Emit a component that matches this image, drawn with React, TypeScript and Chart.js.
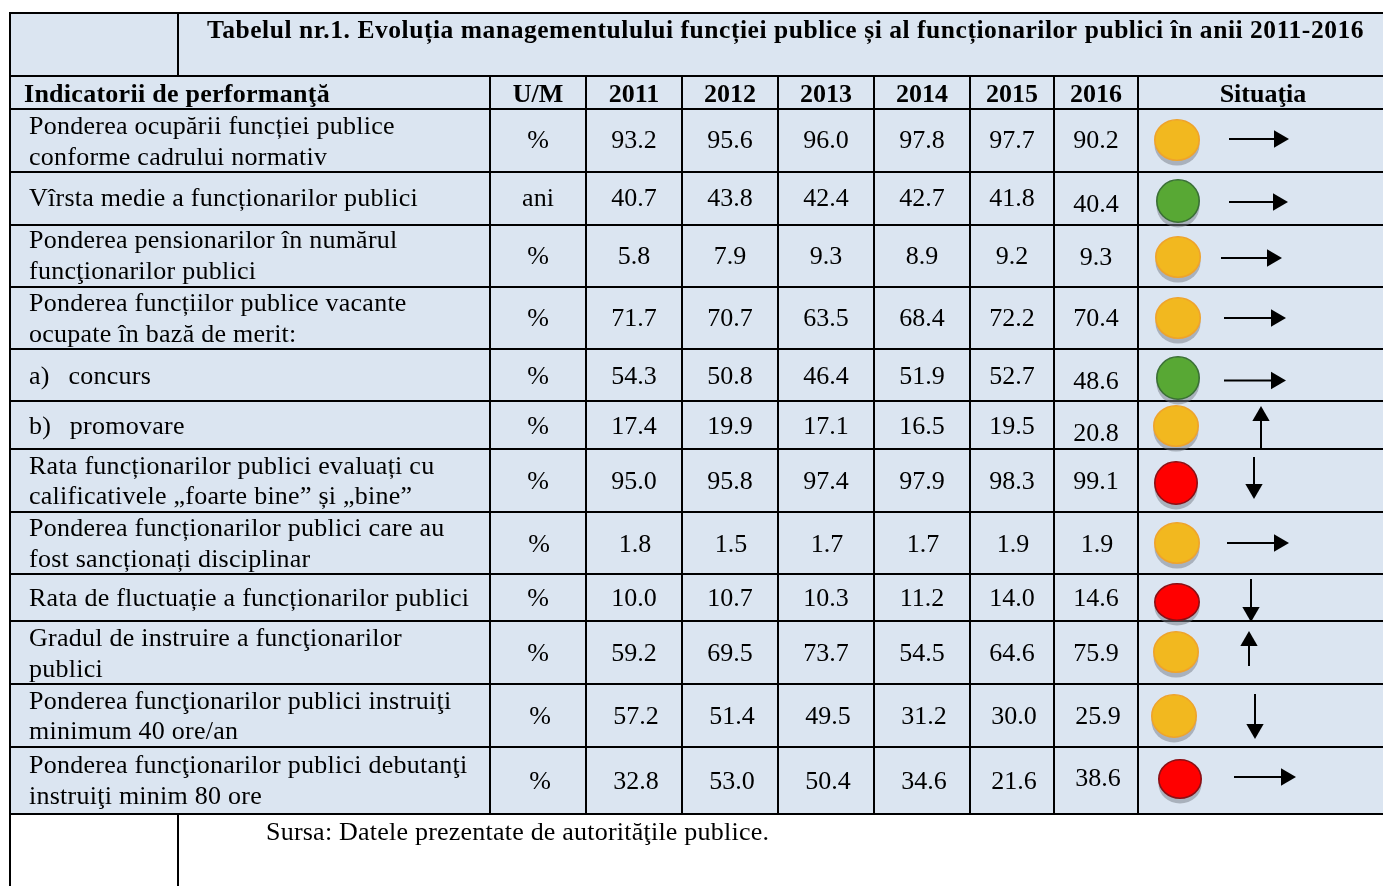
import React, { useEffect, useRef } from "react";
import { Chart, registerables } from "chart.js";

Chart.register(...registerables);

// ---- content ----
const title = "Tabelul nr.1. Evoluția managementulului funcției publice și al funcționarilor publici în anii 2011-2016";
const source = "Sursa: Datele prezentate de autorităţile publice.";
const headLabel = "Indicatorii de performanţă";
const headUnit = "U/M";
const headStatus = "Situaţia";
const years = ["2011", "2012", "2013", "2014", "2015", "2016"];

const indicators: string[][] = [
  ["Ponderea ocupării funcției publice", "conforme cadrului normativ"],
  ["Vîrsta medie a funcționarilor publici"],
  ["Ponderea pensionarilor în numărul", "funcţionarilor publici"],
  ["Ponderea funcțiilor publice vacante", "ocupate în bază de merit:"],
  ["a)\u2002\u2009concurs"],
  ["b)\u2002\u2009promovare"],
  ["Rata funcționarilor publici evaluați cu", "calificativele „foarte bine” și „bine”"],
  ["Ponderea funcționarilor publici care au", "fost sancționați disciplinar"],
  ["Rata de fluctuație a funcționarilor publici"],
  ["Gradul de instruire a funcţionarilor", "publici"],
  ["Ponderea funcţionarilor publici instruiţi", "minimum 40 ore/an"],
  ["Ponderea funcţionarilor publici debutanţi", "instruiţi minim 80 ore"],
];
const units = ["%", "ani", "%", "%", "%", "%", "%", "%", "%", "%", "%", "%"];

const values2011 = ["93.2", "40.7", "5.8", "71.7", "54.3", "17.4", "95.0", "1.8", "10.0", "59.2", "57.2", "32.8"];
const values2012 = ["95.6", "43.8", "7.9", "70.7", "50.8", "19.9", "95.8", "1.5", "10.7", "69.5", "51.4", "53.0"];
const values2013 = ["96.0", "42.4", "9.3", "63.5", "46.4", "17.1", "97.4", "1.7", "10.3", "73.7", "49.5", "50.4"];
const values2014 = ["97.8", "42.7", "8.9", "68.4", "51.9", "16.5", "97.9", "1.7", "11.2", "54.5", "31.2", "34.6"];
const values2015 = ["97.7", "41.8", "9.2", "72.2", "52.7", "19.5", "98.3", "1.9", "14.0", "64.6", "30.0", "21.6"];
const values2016 = ["90.2", "40.4", "9.3", "70.4", "48.6", "20.8", "99.1", "1.9", "14.6", "75.9", "25.9", "38.6"];
const yearValues = [values2011, values2012, values2013, values2014, values2015, values2016];

const lightStatus = ["amber", "green", "amber", "amber", "green", "amber", "red", "amber", "red", "amber", "amber", "red"];
const trends = ["right", "right", "right", "right", "right", "up", "down", "right", "down", "up", "down", "right"];

// ---- layout (table units, the axes run over the page) ----
const pageW = 1383;
const pageH = 886;
const colEdges = [490, 586, 682, 778, 874, 970, 1054, 1138];
const rowEdges = [76, 109, 172, 225, 287, 349, 401, 449, 512, 574, 621, 684, 747, 814];
const tableTop = 13;
const tableLeft = 10;
const splitX = 178;
const yearX = [634, 730, 826, 922, 1012, 1096];
const unitX = 538;
const rowValueY = [140, 198, 256, 318, 376, 426, 481, 544, 598, 653, 716, 781];
const rowValueDx = [0, 0, 0, 0, 0, 0, 0, 1, 0, 0, 2, 2];
const lastColDy = [0, 6, 1, 0, 5, 7, 0, 0, 0, 0, 0, -3];
const labelLineY: number[][] = [
  [126, 157], [198], [240, 271], [303, 334], [376], [426], [466, 496], [528, 559], [598], [638, 669], [701, 731], [765, 796],
];
const lightPos = [
  [1177, 140, 23, 21], [1178, 201, 22, 22], [1178, 257, 23, 21], [1178, 318, 23, 21], [1178, 378, 22, 22], [1176, 426, 23, 21],
  [1176, 483, 22, 22], [1177, 543, 23, 21], [1177, 602, 23, 19], [1176, 652, 23, 21], [1174, 716, 23, 22], [1180, 779, 22, 20],
];
// arrow: tail position and length
const arrowPos = [
  [1229, 139, 60], [1229, 202, 59], [1221, 258, 61], [1224, 318, 62], [1224, 380.5, 62], [1261, 448, 42],
  [1254, 457, 42], [1227, 543, 62], [1251, 579, 43], [1249, 666, 35], [1255, 694, 45], [1234, 777, 62],
];

const lightColors: Record<string, [string, string]> = {
  amber: ["#f2b81f", "#eea32c"],
  green: ["#58a834", "#3a6f35"],
  red: ["#ff0000", "#8a0f14"],
};
const cellFill = "#dbe5f1";
const ink = "#000000";
const serif = '"Liberation Serif", "Times New Roman", serif';
const headSize = 26;
const titleSize = 25.5;
const bodySize = 26;
const textDrop = 1.5;

function lightImage(status: string, rx: number, ry: number) {
  const c = document.createElement("canvas");
  c.width = 2 * rx + 12;
  c.height = 2 * ry + 16;
  const g = c.getContext("2d")!;
  const cx = c.width / 2;
  const cy = c.height / 2;
  const [fill, edge] = lightColors[status];
  g.fillStyle = "rgba(120,125,135,0.5)";
  g.beginPath();
  g.ellipse(cx, cy + 5, rx - 0.5, ry - 0.5, 0, 0, Math.PI * 2);
  g.fill();
  g.fillStyle = fill;
  g.strokeStyle = edge;
  g.lineWidth = 1.6;
  g.beginPath();
  g.ellipse(cx, cy, rx - 0.8, ry - 0.8, 0, 0, Math.PI * 2);
  g.fill();
  g.stroke();
  return c;
}

const tablePlugin = {
  id: "tablePlugin",
  beforeDatasetsDraw(chart: any) {
    const { ctx, scales } = chart;
    const X = (v: number) => scales.x.getPixelForValue(v);
    const Y = (v: number) => scales.y.getPixelForValue(v);
    const bottom = rowEdges[rowEdges.length - 1];
    ctx.save();
    ctx.fillStyle = cellFill;
    ctx.fillRect(X(tableLeft), Y(tableTop), X(pageW) - X(tableLeft), Y(bottom) - Y(tableTop));
    ctx.fillStyle = "#000";
    const hLine = (y: number) => ctx.fillRect(X(tableLeft) - 1, Y(y) - 1, X(pageW) - X(tableLeft) + 1, 2);
    const vLine = (x: number, a: number, b: number) => ctx.fillRect(X(x) - 1, Y(a), 2, Y(b) - Y(a));
    hLine(tableTop);
    rowEdges.forEach(hLine);
    vLine(tableLeft, tableTop, pageH);
    vLine(splitX, tableTop, rowEdges[0]);
    vLine(splitX, bottom, pageH);
    colEdges.forEach((x) => vLine(x, rowEdges[0], bottom));
    ctx.restore();
  },
  afterDatasetsDraw(chart: any) {
    const { ctx, scales } = chart;
    const X = (v: number) => scales.x.getPixelForValue(v);
    const Y = (v: number) => scales.y.getPixelForValue(v);
    ctx.save();
    ctx.fillStyle = ink;
    ctx.textBaseline = "middle";
    const put = (t: string, x: number, y: number, align: CanvasTextAlign, font: string, spacing: number) => {
      ctx.font = font;
      ctx.textAlign = align;
      ctx.letterSpacing = `${spacing}px`;
      ctx.fillText(t, X(x), Y(y) + textDrop);
    };
    const bold = `bold ${headSize}px ${serif}`;
    const body = `${bodySize}px ${serif}`;
    put(title, 207, 30, "left", `bold ${titleSize}px ${serif}`, 0.55);
    put(headLabel, 24, 94, "left", bold, 0.27);
    put(headUnit, unitX, 94, "center", bold, 0);
    years.forEach((y, i) => put(y, yearX[i], 94, "center", bold, 0));
    put(headStatus, 1263, 94, "center", bold, 0);
    indicators.forEach((lines, r) => {
      lines.forEach((l, k) => put(l, 29, labelLineY[r][k], "left", body, 0.25));
      put(units[r], unitX + rowValueDx[r], rowValueY[r], "center", body, 0);
    });
    years.forEach((_, c) => {
      const meta = chart.getDatasetMeta(c);
      yearValues[c].forEach((v, r) => {
        const p = meta.data[r];
        ctx.font = body;
        ctx.textAlign = "center";
        ctx.letterSpacing = "0px";
        ctx.fillText(v, p.x, p.y + textDrop);
      });
    });
    put(source, 266, 832, "left", body, 0.22);
    ctx.restore();
  },
};

function arrowDataset(r: number) {
  const [x, y, len] = arrowPos[r];
  const dir = trends[r];
  const headR = 10;
  const dx = dir === "right" ? 1 : 0;
  const dy = dir === "down" ? 1 : dir === "up" ? -1 : 0;
  return {
    type: "line" as const,
    data: [
      { x, y },
      { x: x + dx * (len - headR), y: y + dy * (len - headR) },
    ],
    borderColor: "#000",
    backgroundColor: "#000",
    borderWidth: 2,
    pointRadius: [0, headR],
    pointBorderWidth: 0,
    pointBackgroundColor: "#000",
    pointStyle: "triangle",
    pointRotation: dir === "right" ? 90 : dir === "down" ? 180 : 0,
    showLine: true,
    tension: 0,
    parsing: false as const,
    order: 1,
  };
}

export default function App() {
  const ref = useRef<HTMLCanvasElement | null>(null);
  useEffect(() => {
    if (!ref.current) return;
    document.body.style.margin = "0";
    const valueSets = years.map((y, c) => ({
      type: "scatter" as const,
      label: y,
      data: yearValues[c].map((_, r) => ({
        x: yearX[c] + rowValueDx[r],
        y: rowValueY[r] + (c === 5 ? lastColDy[r] : 0),
      })),
      pointRadius: 0,
    }));
    const lights = {
      type: "scatter" as const,
      label: "Situaţia",
      data: lightPos.map(([x, y]) => ({ x, y })),
      pointStyle: lightPos.map(([, , rx, ry], r) => lightImage(lightStatus[r], rx, ry)),
      pointRadius: 20,
      order: 2,
    };
    const chart = new Chart(ref.current, {
      type: "scatter",
      data: {
        datasets: [...valueSets, lights, ...trends.map((_, r) => arrowDataset(r))] as any,
      },
      options: {
        animation: false,
        responsive: false,
        layout: { padding: 0, autoPadding: false },
        plugins: { legend: { display: false }, tooltip: { enabled: false } },
        events: [],
        clip: false,
        scales: {
          x: { type: "linear", display: false, min: 0, max: pageW },
          y: { type: "linear", display: false, min: 0, max: pageH, reverse: true },
        },
      } as any,
      plugins: [tablePlugin],
    });
    return () => chart.destroy();
  }, []);
  return (
    <div style={{ position: "absolute", left: 0, top: 0, width: pageW, height: pageH, overflow: "hidden" }}>
      <canvas ref={ref} width={pageW} height={pageH} style={{ display: "block" }} />
    </div>
  );
}
